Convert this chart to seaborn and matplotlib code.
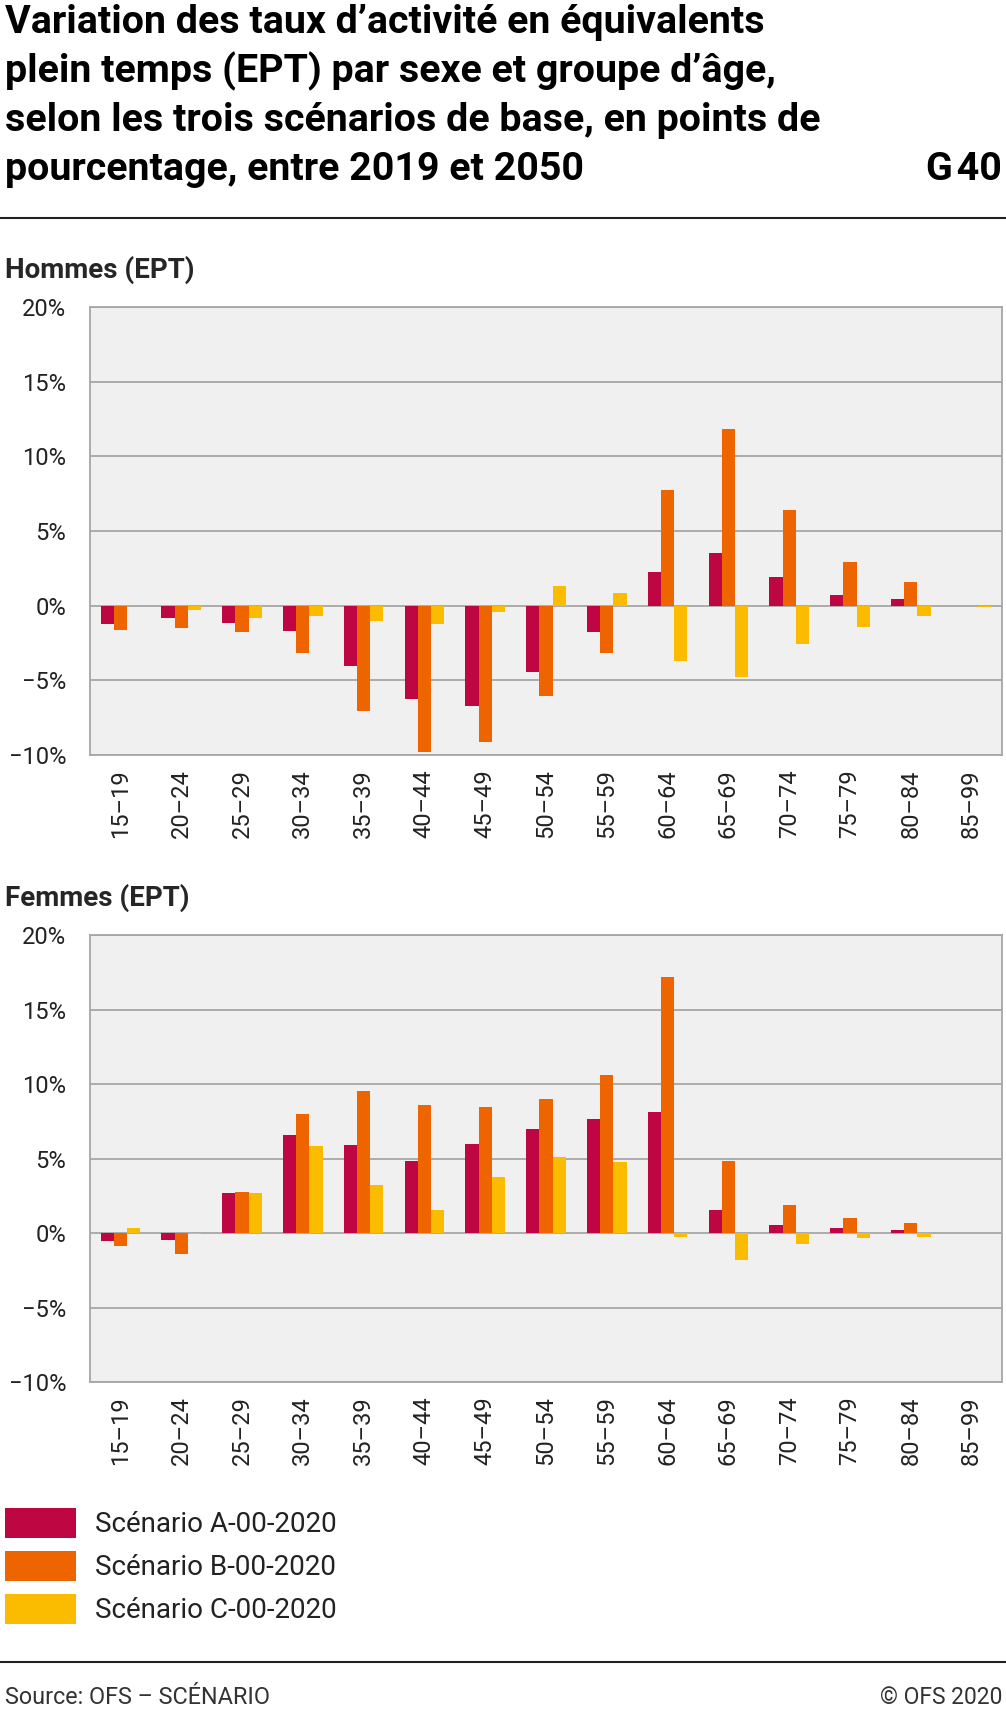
import matplotlib
matplotlib.use("Agg")
import matplotlib.pyplot as plt
from matplotlib.lines import Line2D
from matplotlib.ticker import FuncFormatter
import seaborn as sns
import pandas as pd

# age groups and scenario values (percentage points, 2019 -> 2050)
ages = ["15–19", "20–24", "25–29", "30–34", "35–39", "40–44", "45–49", "50–54",
        "55–59", "60–64", "65–69", "70–74", "75–79", "80–84", "85–99"]
scenarios = ["Scénario A-00-2020", "Scénario B-00-2020", "Scénario C-00-2020"]

hommes_A = [-1.2, -0.83, -1.16, -1.72, -4.04, -6.26, -6.7, -4.46, -1.74, 2.25, 3.55, 1.94, 0.74, 0.45, 0.0]
hommes_B = [-1.65, -1.5, -1.74, -3.17, -7.06, -9.77, -9.1, -6.07, -3.17, 7.75, 11.83, 6.4, 2.92, 1.58, 0.0]
hommes_C = [-0.05, -0.3, -0.83, -0.71, -1.0, -1.23, -0.45, 1.29, 0.87, -3.73, -4.75, -2.54, -1.4, -0.7, -0.1]

femmes_A = [-0.54, -0.49, 2.68, 6.56, 5.89, 4.82, 6.0, 6.96, 7.63, 8.15, 1.54, 0.56, 0.31, 0.22, 0.0]
femmes_B = [-0.89, -1.4, 2.77, 8.01, 9.53, 8.59, 8.44, 9.0, 10.6, 17.19, 4.84, 1.85, 1.0, 0.67, 0.0]
femmes_C = [0.36, -0.1, 2.66, 5.87, 3.21, 1.54, 3.77, 5.11, 4.75, -0.27, -1.83, -0.76, -0.36, -0.3, 0.0]

title_lines = ["Variation des taux d’activité en équivalents",
               "plein temps (EPT) par sexe et groupe d’âge,",
               "selon les trois scénarios de base, en points de",
               "pourcentage, entre 2019 et 2050"]

colors = {"Scénario A-00-2020": "#BE0742",
          "Scénario B-00-2020": "#EE6500",
          "Scénario C-00-2020": "#FBBC00"}


def long_df(a, b, c):
    rows = []
    for vals, s in zip([a, b, c], scenarios):
        for age, v in zip(ages, vals):
            rows.append({"age": age, "val": v, "scen": s})
    return pd.DataFrame(rows)


sns.set_style("white")
plt.rcParams["font.family"] = ["Roboto", "DejaVu Sans"]

W, H = 1006, 1710
fig = plt.figure(figsize=(W / 100, H / 100), dpi=100)

grid_c = "#a6a6a6"
tick_c = "#222222"


def make_axes(top_px, bot_px):
    return fig.add_axes([90 / W, 1 - bot_px / H, 912 / W, (bot_px - top_px) / H])


def style(ax):
    ax.set_facecolor("#f0f0f0")
    ax.set_ylim(-10, 20)
    ax.set_xlim(-0.5, 14.5)
    ax.set_yticks([-10, -5, 0, 5, 10, 15, 20])
    ax.yaxis.set_major_formatter(FuncFormatter(lambda v, p: f"{v:.0f}%".replace("-", "−")))
    ax.grid(axis="y", color=grid_c, linewidth=1.3, zorder=0)
    ax.set_axisbelow(True)
    for sp in ax.spines.values():
        sp.set_color(grid_c)
        sp.set_linewidth(1.3)
    ax.tick_params(axis="y", length=5, width=1.3, color=grid_c, pad=12,
                   labelsize=17, labelcolor=tick_c)
    ax.tick_params(axis="x", length=0, pad=10.5, labelsize=17, labelcolor=tick_c,
                   labelrotation=90)
    ax.set_xlabel("")
    ax.set_ylabel("")


ax1 = make_axes(307, 755)
sns.barplot(data=long_df(hommes_A, hommes_B, hommes_C), x="age", y="val", hue="scen",
            palette=colors, width=0.65, saturation=1, errorbar=None, linewidth=0,
            ax=ax1, zorder=3)
handles, labels = ax1.get_legend_handles_labels()
ax1.get_legend().remove()
style(ax1)

ax2 = make_axes(935, 1382)
sns.barplot(data=long_df(femmes_A, femmes_B, femmes_C), x="age", y="val", hue="scen",
            palette=colors, width=0.65, saturation=1, errorbar=None, linewidth=0,
            ax=ax2, zorder=3, legend=False)
style(ax2)

# title block
for i, line in enumerate(title_lines):
    fig.text(5 / W, 1 - (33 + 49 * i) / H, line, fontsize=28.4, fontweight="bold",
             color="black", va="baseline", ha="left")
fig.text(1002 / W, 1 - 180 / H, "G\u200a40", fontsize=28.4, fontweight="bold",
         color="black", va="baseline", ha="right")
fig.add_artist(Line2D([0, 1], [1 - 218 / H] * 2, color="#222222", linewidth=1.5))

fig.text(5 / W, 1 - 278 / H, "Hommes (EPT)", fontsize=20, fontweight="bold", va="baseline")
fig.text(5 / W, 1 - 906 / H, "Femmes (EPT)", fontsize=20, fontweight="bold", va="baseline")

fig.legend(handles, labels, loc="upper left", bbox_to_anchor=(5 / W, 1 - 1508 / H),
           frameon=False, fontsize=20, handlelength=2.55, handleheight=1.3,
           labelspacing=0.45, handletextpad=0.7, borderpad=0, borderaxespad=0,
           labelcolor=tick_c)

# footer
fig.add_artist(Line2D([0, 1], [1 - 1662 / H] * 2, color="#222222", linewidth=1.5))
fig.text(5 / W, 1 - 1704 / H, "Source: OFS – SCÉNARIO", fontsize=16.8, color="#333333",
         va="baseline", ha="left")
fig.text(1002 / W, 1 - 1704 / H, "© OFS 2020", fontsize=16.5, color="#333333",
         va="baseline", ha="right")

fig.savefig("out.png", dpi=100)
